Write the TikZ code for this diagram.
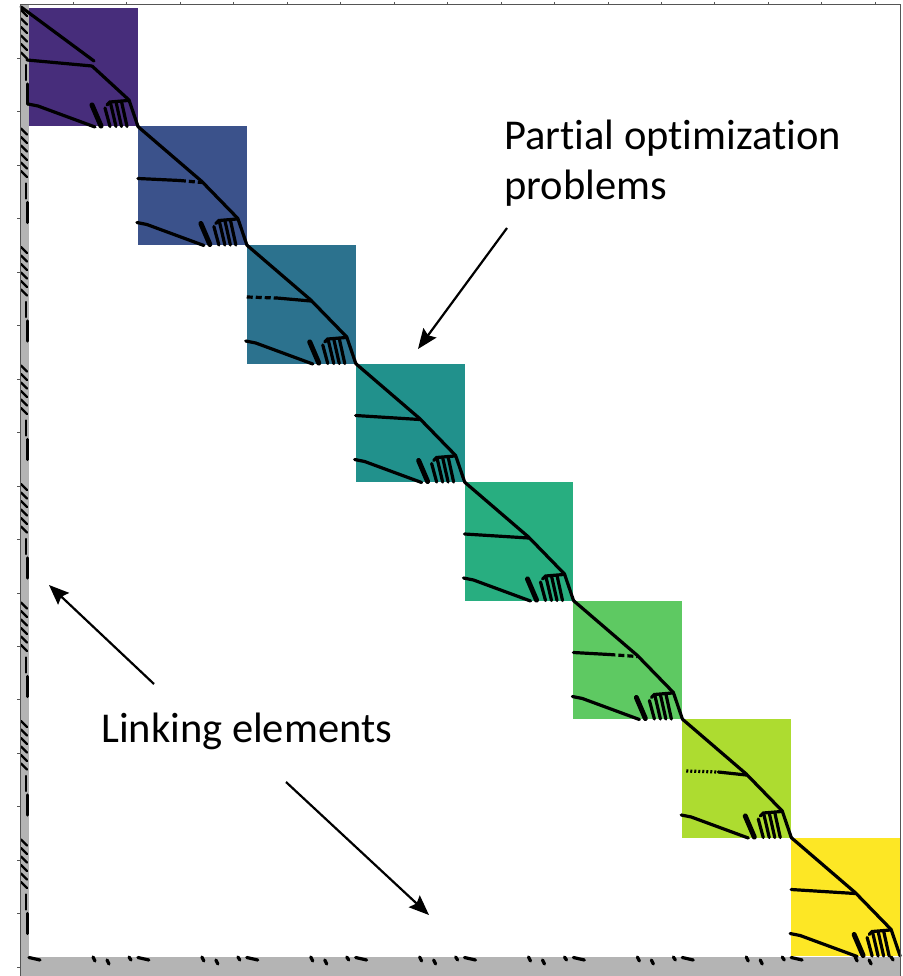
\documentclass[tikz,border=0pt]{standalone}
\usepackage{fontspec}
\setmainfont[Ligatures=NoCommon]{Carlito}
\usetikzlibrary{arrows.meta}

% viridis steps for the eight diagonal blocks
\definecolor{vA}{HTML}{472D7B}
\definecolor{vB}{HTML}{3B528B}
\definecolor{vC}{HTML}{2C728E}
\definecolor{vD}{HTML}{21918C}
\definecolor{vE}{HTML}{28AE80}
\definecolor{vF}{HTML}{5EC962}
\definecolor{vG}{HTML}{ADDC30}
\definecolor{vH}{HTML}{FDE725}
\definecolor{bandgray}{HTML}{B4B4B4}
\definecolor{framegray}{HTML}{555555}

\begin{document}
\begin{tikzpicture}[x=1pt,y=-1pt,
  nz/.style={draw=black,line width=3.2pt,line cap=round,line join=round},
  nzthick/.style={draw=black,line width=5pt,line cap=round},
  nzcomb/.style={draw=black,line width=3.2pt,line cap=round},
  nzthin/.style={draw=black,line width=2.2pt,line cap=round},
  frameline/.style={draw=framegray,line width=1pt},
  tick/.style={draw=framegray,line width=0.9pt},
  label/.style={font=\fontsize{42.5}{50}\selectfont,inner sep=0pt,align=left},
  pointer/.style={draw=black,line width=2.2pt,
    -{Stealth[length=20pt,width=16pt,inset=3pt]}}]
\useasboundingbox (0,0) rectangle (902,976);
\fill[white] (0,0) rectangle (902,976);

% linking bands: first column and last row
\fill[bandgray] (20,5) rectangle (29,976);
\fill[bandgray] (20,956) rectangle (900,976);
\draw[white,line width=0.8pt] (29,956) -- (900,956);

% diagonal blocks with their sparsity pattern
\foreach \k/\col in {0/vA,1/vB,2/vC,3/vD,4/vE,5/vF,6/vG,7/vH}{
  \pgfmathsetmacro{\bx}{29+108.875*\k}
  \pgfmathsetmacro{\by}{8+118.5*\k}
  \begin{scope}[shift={(\bx,\by)}]
    \fill[\col] (0,0) rectangle (108.9,118.5);
    % main diagonal
    \ifnum\k=0
      \draw[nz] (-8,-1) -- (65,53);
      \draw[nz] (63,58) -- (100,92) -- (109,118.5);
    \else
      \draw[nz] (0,0) -- (64,55) -- (100,92) -- (109,118.5);
    \fi
    % horizontal coupling row
    \ifcase\k
      \draw[nz] (-2,52) -- (63,58);
    \or
      \draw[nz] (0,52) -- (42,54);
      \draw[nz,line cap=butt,dash pattern=on 6pt off 3pt] (42,54) -- (64,56);
    \or
      \draw[nz,line cap=butt,dash pattern=on 6pt off 3pt] (0,52) -- (30,53);
      \draw[nz] (30,53) -- (64,56);
    \or
      \draw[nz] (0,52) -- (64,56);
    \or
      \draw[nz] (0,52) -- (64,56);
    \or
      \draw[nz] (0,52) -- (36,54);
      \draw[nz,line cap=butt,dash pattern=on 6pt off 3pt] (36,54) -- (64,56);
    \or
      \draw[nz,line cap=butt,dash pattern=on 2pt off 2pt] (4,52) -- (36,53);
      \draw[nz] (36,53) -- (64,56);
    \else
      \draw[nz] (0,52) -- (64,56);
    \fi
    % lower coupling row
    \draw[nz] (-1,96) -- (9,98) -- (66,119);
    % comb of short columns
    \draw[nzthick] (63,97) -- (72,118);
    \draw[nzcomb] (78,97) -- (81,94) -- (99,92.5);
    \draw[nzcomb] (76,100) -- (81,118.5);
    \draw[nzcomb] (81.5,95) -- (87,118.5);
    \draw[nzcomb] (87,94) -- (92.5,118.5);
    \draw[nzcomb] (92.5,93.5) -- (98,118.5);
  \end{scope}
  % entries in the linking column
  \begin{scope}[shift={(0,\by)}]
    \foreach \j in {0,...,5}{
      \draw[nzthin] (21,{2+8.5*\j}) -- (27,{8+8.5*\j});
    }
    \draw[nzthin] (26,57) -- (26,72);
    \draw[nz] (27.5,76) -- (27.5,96);
  \end{scope}
  % entries in the linking row
  \begin{scope}[shift={(\bx,0)}]
    \draw[nz] (0,957.5) -- (11,960);
    \draw[nz] (64,957) -- (66,961);
    \draw[nz] (78,960) -- (80,964);
    \draw[nz] (100,957) -- (102,960);
  \end{scope}
}

% frame and ticks
\draw[frameline] (20,976) -- (20,5) -- (900,5) -- (900,976);
\foreach \i in {1,...,16}{
  \draw[tick] ({20+53.45*\i},2) -- ({20+53.45*\i},5);
}
\foreach \i in {1,...,18}{
  \draw[tick] (17,{5+53.45*\i}) -- (20,{5+53.45*\i});
}

% annotations
\node[label,anchor=base west] (partial) at (504,200) {Partial optimization\\problems};
\node[label,anchor=base west] (linking) at (101,742) {Linking elements};

\coordinate (partialTail) at (507,228);
\coordinate (partialTip) at (418,349);
\coordinate (upTail) at (154,684);
\coordinate (upTip) at (49,585);
\coordinate (downTail) at (286,782);
\coordinate (downTip) at (429,915);

\draw[pointer] (partialTail) -- (partialTip);
\draw[pointer] (upTail) -- (upTip);
\draw[pointer] (downTail) -- (downTip);
\end{tikzpicture}
\end{document}
